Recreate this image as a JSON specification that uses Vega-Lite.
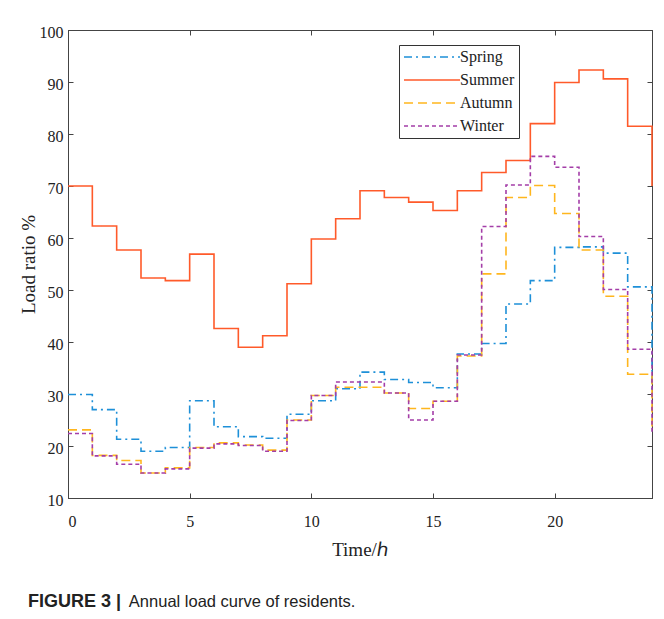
{
  "$schema": "https://vega.github.io/schema/vega-lite/v6.json",
  "width": 584,
  "height": 468,
  "autosize": {"type": "none"},
  "padding": {"left": 68, "top": 30, "right": 12, "bottom": 121},
  "background": "white",
  "title": {
    "text": "FIGURE 3 |",
    "subtitle": "\u200d\u00a0\u00a0\u00a0\u00a0\u00a0\u00a0\u00a0\u00a0\u00a0\u00a0\u00a0\u00a0\u00a0\u00a0\u00a0\u00a0\u00a0\u00a0\u00a0\u00a0\u00a0\u00a0Annual load curve of residents.",
    "orient": "bottom",
    "anchor": "start",
    "frame": "group",
    "dx": -40,
    "offset": 34,
    "font": "Liberation Sans",
    "fontSize": 18,
    "fontWeight": "bold",
    "color": "#222222",
    "subtitleFont": "Liberation Sans",
    "subtitleFontSize": 16.5,
    "subtitleColor": "#222222",
    "subtitlePadding": -16.8
  },
  "data": {
    "values": [
      {"hour": 0, "Spring": 29.9, "Summer": 70.0, "Autumn": 23.1, "Winter": 22.4},
      {"hour": 1, "Spring": 27.0, "Summer": 62.3, "Autumn": 18.2, "Winter": 18.1},
      {"hour": 2, "Spring": 21.3, "Summer": 57.7, "Autumn": 17.2, "Winter": 16.5},
      {"hour": 3, "Spring": 19.0, "Summer": 52.3, "Autumn": 14.8, "Winter": 14.8},
      {"hour": 4, "Spring": 19.7, "Summer": 51.8, "Autumn": 15.8, "Winter": 15.6},
      {"hour": 5, "Spring": 28.7, "Summer": 56.9, "Autumn": 19.7, "Winter": 19.6},
      {"hour": 6, "Spring": 23.7, "Summer": 42.6, "Autumn": 20.6, "Winter": 20.4},
      {"hour": 7, "Spring": 21.8, "Summer": 39.0, "Autumn": 20.2, "Winter": 20.1},
      {"hour": 8, "Spring": 21.5, "Summer": 41.2, "Autumn": 19.2, "Winter": 19.0},
      {"hour": 9, "Spring": 26.1, "Summer": 51.2, "Autumn": 25.0, "Winter": 24.9},
      {"hour": 10, "Spring": 28.7, "Summer": 59.8, "Autumn": 29.7, "Winter": 29.7},
      {"hour": 11, "Spring": 31.0, "Summer": 63.7, "Autumn": 31.3, "Winter": 32.3},
      {"hour": 12, "Spring": 34.2, "Summer": 69.1, "Autumn": 31.3, "Winter": 32.3},
      {"hour": 13, "Spring": 32.8, "Summer": 67.8, "Autumn": 30.2, "Winter": 30.2},
      {"hour": 14, "Spring": 32.2, "Summer": 66.9, "Autumn": 27.2, "Winter": 25.0},
      {"hour": 15, "Spring": 31.2, "Summer": 65.3, "Autumn": 28.6, "Winter": 28.6},
      {"hour": 16, "Spring": 37.7, "Summer": 69.1, "Autumn": 37.3, "Winter": 37.5},
      {"hour": 17, "Spring": 39.7, "Summer": 72.6, "Autumn": 53.1, "Winter": 62.2},
      {"hour": 18, "Spring": 47.3, "Summer": 74.9, "Autumn": 67.8, "Winter": 70.2},
      {"hour": 19, "Spring": 51.8, "Summer": 82.0, "Autumn": 70.1, "Winter": 75.7},
      {"hour": 20, "Spring": 58.2, "Summer": 89.9, "Autumn": 64.7, "Winter": 73.6},
      {"hour": 21, "Spring": 58.3, "Summer": 92.3, "Autumn": 57.7, "Winter": 60.3},
      {"hour": 22, "Spring": 57.1, "Summer": 90.6, "Autumn": 48.8, "Winter": 50.1},
      {"hour": 23, "Spring": 50.6, "Summer": 81.5, "Autumn": 33.8, "Winter": 38.6},
      {"hour": 24, "Spring": 29.9, "Summer": 70.0, "Autumn": 23.1, "Winter": 22.4}
    ]
  },
  "transform": [
    {"fold": ["Spring", "Summer", "Autumn", "Winter"], "as": ["season", "value"]}
  ],
  "layer": [
    {
      "mark": {"type": "line", "interpolate": "step-after", "strokeWidth": 1.6},
      "encoding": {
        "x": {
          "field": "hour", "type": "quantitative",
          "scale": {"domain": [0, 24], "nice": false, "zero": false},
          "axis": {
            "orient": "bottom", "title": "Time/\u210e", "values": [0, 5, 10, 15, 20],
            "tickSize": -5, "labelPadding": 20, "titlePadding": 11
          }
        },
        "y": {
          "field": "value", "type": "quantitative",
          "scale": {"domain": [10, 100], "nice": false, "zero": false},
          "axis": {
            "orient": "left", "title": "Load ratio %", "values": [10, 20, 30, 40, 50, 60, 70, 80, 90, 100],
            "tickSize": -5, "labelPadding": 10, "titlePadding": 1, "labelOffset": 2
          }
        },
        "color": {
          "field": "season", "type": "nominal",
          "scale": {"domain": ["Spring", "Summer", "Autumn", "Winter"], "range": ["#1e90d8", "#ff5a2a", "#ffb61e", "#a43ea8"]},
          "legend": {
            "title": null, "orient": "none", "legendX": 331, "legendY": 15,
            "symbolType": "M-1,0H7", "symbolSize": 196, "symbolStrokeWidth": 1.6,
            "labelFont": "Liberation Serif", "labelFontSize": 16, "labelColor": "#222222",
            "labelOffset": 41, "rowPadding": 7, "padding": 4,
            "strokeColor": "#333333", "fillColor": "white"
          }
        },
        "strokeDash": {
          "field": "season", "type": "nominal",
          "scale": {"domain": ["Spring", "Summer", "Autumn", "Winter"], "range": [[8, 4, 2, 4], [1, 0], [9, 5], [4, 3]]},
          "legend": null
        }
      }
    },
    {
      "mark": {"type": "point", "opacity": 0},
      "encoding": {
        "x": {
          "field": "hour", "type": "quantitative",
          "axis": {"orient": "top", "title": null, "labels": false, "values": [0, 5, 10, 15, 20], "tickSize": -5}
        },
        "y": {
          "field": "value", "type": "quantitative",
          "axis": {"orient": "right", "title": null, "labels": false, "values": [10, 20, 30, 40, 50, 60, 70, 80, 90, 100], "tickSize": -5}
        }
      }
    }
  ],
  "resolve": {"axis": {"x": "independent", "y": "independent"}},
  "config": {
    "view": {"stroke": "#444444", "strokeWidth": 1},
    "axis": {
      "grid": false,
      "domainColor": "#444444",
      "tickColor": "#444444",
      "labelFont": "Liberation Serif",
      "labelFontSize": 16,
      "labelColor": "#222222",
      "titleFont": "Liberation Serif",
      "titleFontSize": 19,
      "titleFontWeight": "normal",
      "titleColor": "#222222"
    }
  }
}
